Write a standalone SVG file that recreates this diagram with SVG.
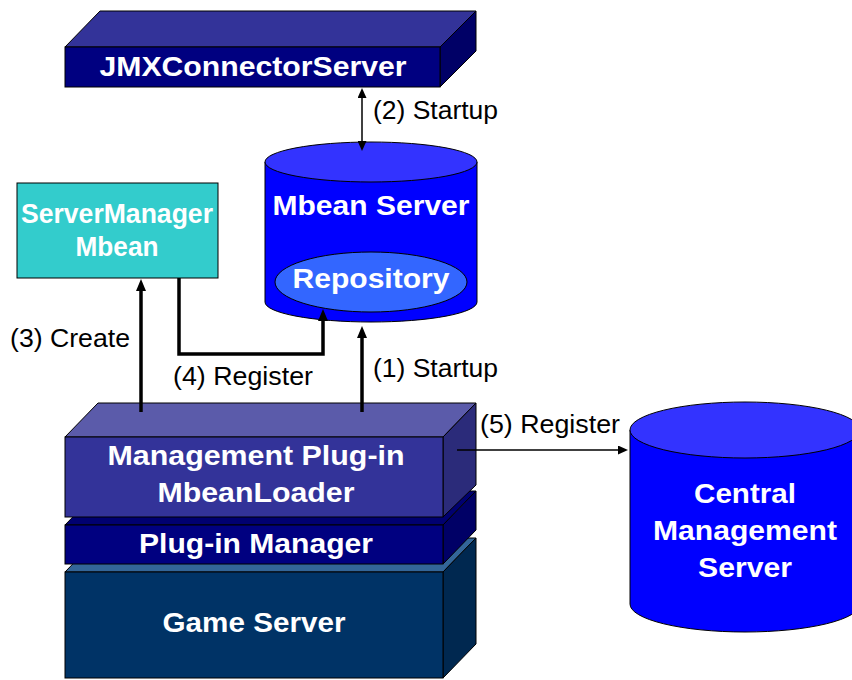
<svg xmlns="http://www.w3.org/2000/svg" width="852" height="680" viewBox="0 0 852 680">
  <defs>
    <style>
      .edge { stroke: #000; stroke-width: 1; stroke-linejoin: miter; }
      .nodeText { font-family: "Liberation Sans", Arial, sans-serif; font-weight: bold; font-size: 28px; fill: #fff; text-anchor: middle; }
      .label { font-family: "Liberation Sans", Arial, sans-serif; font-size: 25px; fill: #000; }
      .thick { fill: none; stroke: #000; stroke-width: 3.5; }
      .thin { fill: none; stroke: #000; stroke-width: 1.5; }
    </style>
    <marker id="headThick" markerUnits="userSpaceOnUse" markerWidth="12" markerHeight="10" refX="1" refY="5" orient="auto">
      <path d="M0,0 L12,5 L0,10 Z" fill="#000"/>
    </marker>
    <marker id="headThin" markerUnits="userSpaceOnUse" markerWidth="10" markerHeight="9" refX="1" refY="4.5" orient="auto">
      <path d="M0,0 L10,4.5 L0,9 Z" fill="#000"/>
    </marker>
    <marker id="headThinStart" markerUnits="userSpaceOnUse" markerWidth="10" markerHeight="9" refX="9" refY="4.5" orient="auto">
      <path d="M10,0 L0,4.5 L10,9 Z" fill="#000"/>
    </marker>
  </defs>

  <rect width="852" height="680" fill="#fff"/>

  <!-- JMX connector server slab -->
  <g id="jmxConnectorServer">
    <polygon class="edge" points="65,47 100,11 476,11 440,47" fill="#333399"/>
    <polygon class="edge" points="440,47 476,11 476,51 440,87" fill="#000066"/>
    <rect class="edge" x="65" y="47" width="375" height="40" fill="#000080"/>
    <text class="nodeText" x="253" y="76" textLength="307" lengthAdjust="spacingAndGlyphs">JMXConnectorServer</text>
  </g>

  <!-- MBean server cylinder with repository -->
  <g id="mbeanServer">
    <path class="edge" d="M265,162 V302 A106,20 0 0,0 477,302 V162 Z" fill="#0000FF"/>
    <ellipse class="edge" cx="371" cy="162" rx="106" ry="20" fill="#3333FF"/>
    <text class="nodeText" x="371" y="215" textLength="197" lengthAdjust="spacingAndGlyphs">Mbean Server</text>
  </g>
  <g id="repository">
    <ellipse class="edge" cx="371" cy="282" rx="96" ry="30" fill="#3366FF"/>
    <text class="nodeText" x="371" y="288" textLength="157" lengthAdjust="spacingAndGlyphs">Repository</text>
  </g>

  <!-- ServerManager MBean -->
  <g id="serverManagerMbean">
    <rect class="edge" x="17" y="183" width="201" height="95" fill="#33CCCC"/>
    <text class="nodeText" x="117" y="223" font-size="26" textLength="192" lengthAdjust="spacingAndGlyphs">ServerManager</text>
    <text class="nodeText" x="117" y="256" font-size="26" textLength="83" lengthAdjust="spacingAndGlyphs">Mbean</text>
  </g>

  <!-- Game server base slab -->
  <g id="gameServer">
    <polygon class="edge" points="65,572 98,538 476,538 443,572" fill="#336699"/>
    <polygon class="edge" points="443,572 476,538 476,644 443,678" fill="#002850"/>
    <rect class="edge" x="65" y="572" width="378" height="106" fill="#003366"/>
    <text class="nodeText" x="254" y="632" textLength="183" lengthAdjust="spacingAndGlyphs">Game Server</text>
  </g>

  <!-- Plug-in manager slab -->
  <g id="pluginManager">
    <polygon class="edge" points="65,525 98,491 476,491 443,525" fill="#000070"/>
    <polygon class="edge" points="443,525 476,491 476,530 443,564" fill="#000066"/>
    <rect class="edge" x="65" y="525" width="378" height="39" fill="#000080"/>
    <text class="nodeText" x="256" y="553" textLength="234" lengthAdjust="spacingAndGlyphs">Plug-in Manager</text>
  </g>

  <!-- Management plug-in slab -->
  <g id="managementPlugin">
    <polygon class="edge" points="65,437 98,403 476,403 443,437" fill="#5B5BAA"/>
    <polygon class="edge" points="443,437 476,403 476,485 443,517" fill="#2B2B7A"/>
    <rect class="edge" x="65" y="437" width="378" height="80" fill="#333399"/>
    <text class="nodeText" x="256" y="465" textLength="297" lengthAdjust="spacingAndGlyphs">Management Plug-in</text>
    <text class="nodeText" x="256" y="502" textLength="197" lengthAdjust="spacingAndGlyphs">MbeanLoader</text>
  </g>

  <!-- Central management server cylinder -->
  <g id="centralManagementServer">
    <path class="edge" d="M630,430 V604 A115,28 0 0,0 860,604 V430 Z" fill="#0000FF"/>
    <ellipse class="edge" cx="745" cy="430" rx="115" ry="28" fill="#3333FF"/>
    <text class="nodeText" x="745" y="503" textLength="102" lengthAdjust="spacingAndGlyphs">Central</text>
    <text class="nodeText" x="745" y="540" textLength="184" lengthAdjust="spacingAndGlyphs">Management</text>
    <text class="nodeText" x="745" y="577" textLength="94" lengthAdjust="spacingAndGlyphs">Server</text>
  </g>

  <!-- Connectors -->
  <g id="connectors">
    <line class="thin" x1="362" y1="97" x2="362" y2="142" marker-start="url(#headThinStart)" marker-end="url(#headThin)"/>
    <line class="thick" x1="141" y1="412" x2="141" y2="290" marker-end="url(#headThick)"/>
    <path class="thick" d="M179,278 V354 H323 V320" marker-end="url(#headThick)"/>
    <line class="thick" x1="362" y1="412" x2="362" y2="337" marker-end="url(#headThick)"/>
    <line class="thin" x1="457" y1="450" x2="619" y2="450" marker-end="url(#headThin)"/>
  </g>

  <!-- Step labels -->
  <g id="labels">
    <text class="label" x="373" y="119" textLength="125" lengthAdjust="spacingAndGlyphs">(2) Startup</text>
    <text class="label" x="10" y="347" textLength="120" lengthAdjust="spacingAndGlyphs">(3) Create</text>
    <text class="label" x="173" y="385" textLength="140" lengthAdjust="spacingAndGlyphs">(4) Register</text>
    <text class="label" x="373" y="377" textLength="125" lengthAdjust="spacingAndGlyphs">(1) Startup</text>
    <text class="label" x="480" y="433" textLength="140" lengthAdjust="spacingAndGlyphs">(5) Register</text>
  </g>
</svg>
